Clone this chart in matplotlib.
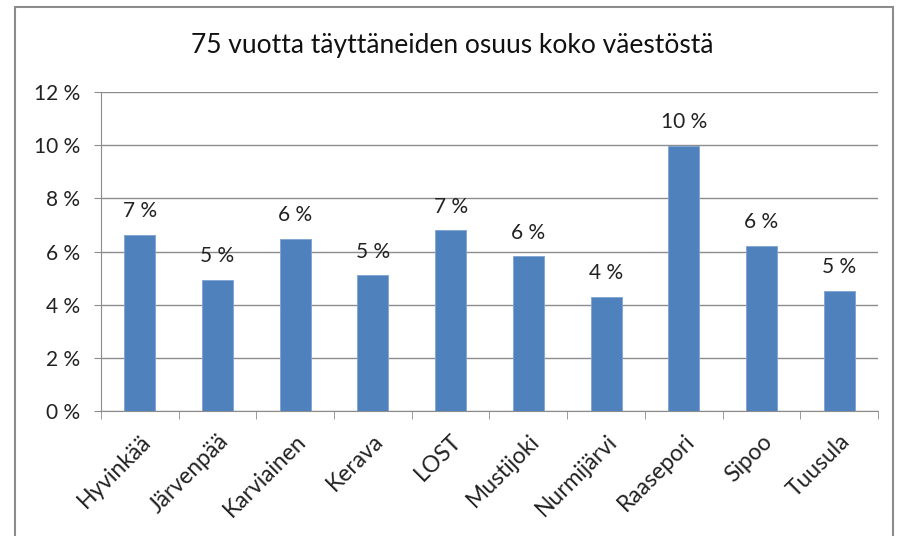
import matplotlib.pyplot as plt
from matplotlib.patches import Rectangle
from matplotlib.transforms import ScaledTranslation
import numpy as np

plt.rcParams['font.family'] = ['Lato', 'DejaVu Sans']

kunnat = ['Hyvinkää', 'Järvenpää', 'Karviainen', 'Kerava', 'LOST',
          'Mustijoki', 'Nurmijärvi', 'Raasepori', 'Sipoo', 'Tuusula']
osuus = [6.63, 4.93, 6.49, 5.11, 6.80, 5.82, 4.30, 9.99, 6.22, 4.52]
yticks = [0, 2, 4, 6, 8, 10, 12]

fig = plt.figure(figsize=(9.04, 5.36), dpi=100)
ax = fig.add_axes([101 / 904, 0.233, (878 - 101) / 904, 0.595])

# chart frame like the excel one
fig.patches.append(Rectangle((15 / 904, -0.05), (893 - 15) / 904, 1.05 - 7 / 536,
                             transform=fig.transFigure, fill=False,
                             edgecolor='#8c8c8c', linewidth=1.5))

x = np.arange(len(kunnat))
ax.bar(x, osuus, width=0.4, color='#4F81BD', edgecolor='#7ea3d4', linewidth=0.6, zorder=3)

for xi, v in zip(x, osuus):
    ax.annotate('%d %%' % round(v), (xi, v), xytext=(0, 17), textcoords='offset points',
                ha='center', va='center', fontsize=15, color='#222222')

ax.set_xlim(-0.5, len(kunnat) - 0.5)
ax.set_ylim(0, 12)
ax.set_yticks(yticks)
ax.set_yticklabels(['%d %%' % t for t in yticks], fontsize=15, color='#222222')
ax.yaxis.grid(True, color='#8c8c8c', linewidth=1, zorder=0)

ax.set_xticks(x)
ax.set_xticklabels(kunnat, rotation=45, ha='right', rotation_mode='anchor',
                   fontsize=16.5, color='#222222')
shift = ScaledTranslation(6 / 100, 0, fig.dpi_scale_trans)
for lbl in ax.get_xticklabels():
    lbl.set_transform(lbl.get_transform() + shift)
ax.set_xticks(np.arange(-0.5, len(kunnat)), minor=True)
ax.tick_params(axis='x', which='major', length=0, pad=14)
ax.tick_params(axis='x', which='minor', length=6, color='#8c8c8c')
ax.tick_params(axis='y', length=5, color='#8c8c8c', pad=10)

for s in ['top', 'right']:
    ax.spines[s].set_visible(False)
ax.spines['left'].set_color('#8c8c8c')
ax.spines['bottom'].set_color('#8c8c8c')

fig.text(0.5, 0.915, '75 vuotta täyttäneiden osuus koko väestöstä', ha='center',
         va='center', fontsize=19, color='#111111')

fig.savefig('out.png', dpi=100)
